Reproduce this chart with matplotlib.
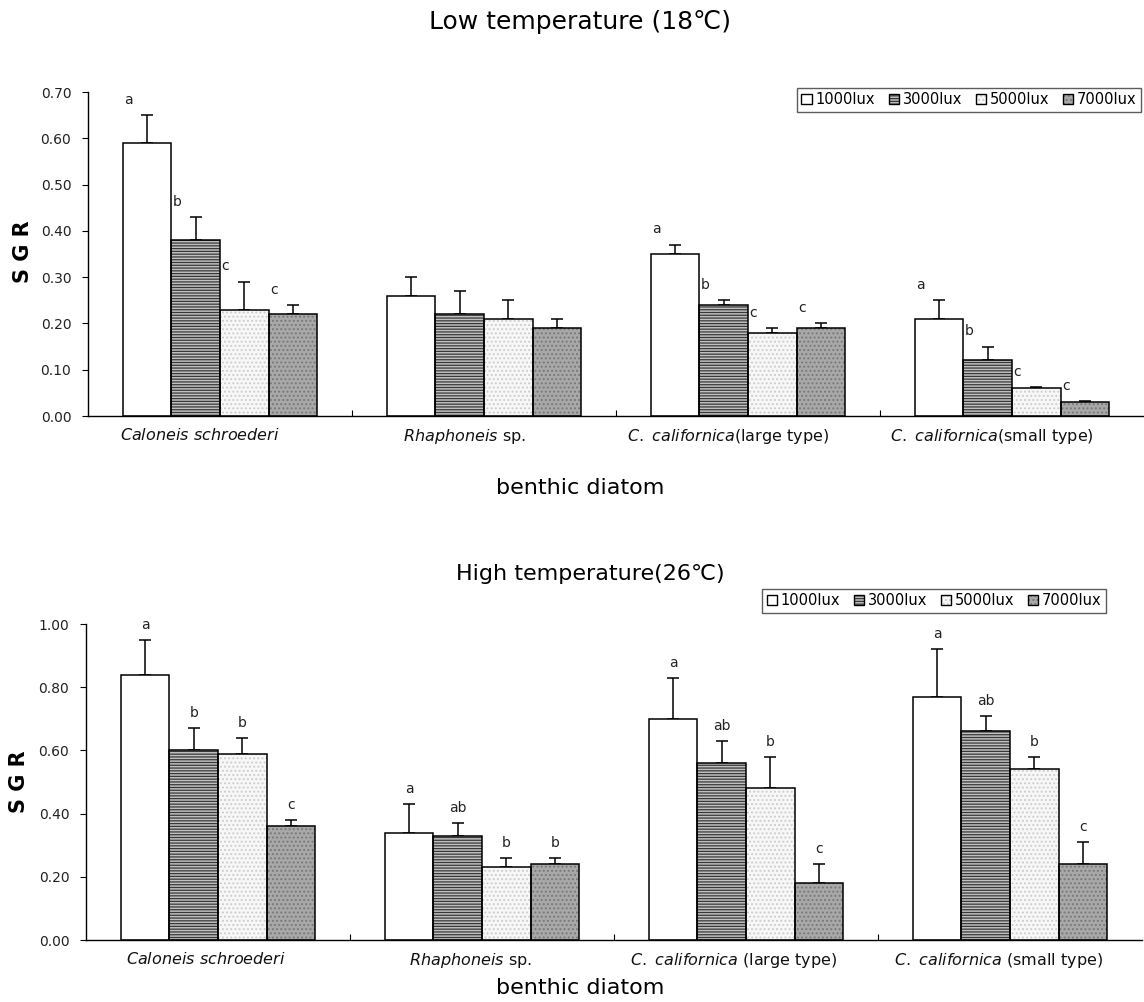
import numpy as np
import matplotlib.pyplot as plt
import matplotlib.transforms as mtransforms
from matplotlib.patches import Patch
from matplotlib.legend_handler import HandlerTuple

species_top = [r"$\mathit{Caloneis\ schroederi}$",
               r"$\mathit{Rhaphoneis}$ sp.",
               r"$\mathit{C.\ californica}$(large type)",
               r"$\mathit{C.\ californica}$(small type)"]
species_bottom = [r"$\mathit{Caloneis\ schroederi}$",
                  r"$\mathit{Rhaphoneis}$ sp.",
                  r"$\mathit{C.\ californica}$ (large type)",
                  r"$\mathit{C.\ californica}$ (small type)"]
light_levels = ["1000lux", "3000lux", "5000lux", "7000lux"]

# SGR at 18 C, rows = light level, columns = species
sgr_low = [[0.59, 0.26, 0.35, 0.21],
           [0.38, 0.22, 0.24, 0.12],
           [0.23, 0.21, 0.18, 0.06],
           [0.22, 0.19, 0.19, 0.03]]
err_low = [[0.06, 0.04, 0.02, 0.04],
           [0.05, 0.05, 0.01, 0.03],
           [0.06, 0.04, 0.01, 0.002],
           [0.02, 0.02, 0.01, 0.002]]
letters_low = [["a", "", "a", "a"],
               ["b", "", "b", "b"],
               ["c", "", "c", "c"],
               ["c", "", "c", "c"]]

# SGR at 26 C
sgr_high = [[0.84, 0.34, 0.70, 0.77],
            [0.60, 0.33, 0.56, 0.66],
            [0.59, 0.23, 0.48, 0.54],
            [0.36, 0.24, 0.18, 0.24]]
err_high = [[0.11, 0.09, 0.13, 0.15],
            [0.07, 0.04, 0.07, 0.05],
            [0.05, 0.03, 0.10, 0.04],
            [0.02, 0.02, 0.06, 0.07]]
letters_high = [["a", "a", "a", "a"],
                ["b", "ab", "ab", "ab"],
                ["b", "b", "b", "b"],
                ["c", "b", "c", "c"]]

plt.rcParams.update({
    "font.family": ["DejaVu Sans"],
    "mathtext.fontset": "custom",
    "mathtext.rm": "DejaVu Sans",
    "mathtext.it": "DejaVu Sans:italic",
    "hatch.linewidth": 0.9,
})

# face colour, hatch pattern, hatch colour for each light level
styles = [("white", "", "white"),
          ("#c0c0c0", "------", "#383838"),
          ("#f7f7f7", "....", "#cccccc"),
          ("#a8a8a8", "....", "#787878")]

W, H = 1144, 1002
fig = plt.figure(figsize=(W / 100, H / 100), dpi=100)
ax1 = fig.add_axes([88 / W, 1 - 416 / H, 1056 / W, 324 / H])
ax2 = fig.add_axes([86 / W, 1 - 940 / H, 1056 / W, 316 / H])

bw = 0.184
x = np.arange(4)


def draw_panel(ax, vals, errs, letters, labels, ymax, ystep, letter_mode,
               label_shift):
    for k in range(4):
        pos = x + (k - 1.5) * bw
        fc, hatch, hc = styles[k]
        ax.bar(pos, vals[k], bw, facecolor=fc, hatch=hatch, edgecolor=hc,
               linewidth=0, zorder=2)
        ax.bar(pos, vals[k], bw, fill=False, edgecolor="black",
               linewidth=1.1, zorder=3)
        ax.errorbar(pos, vals[k], yerr=[np.zeros(4), errs[k]], fmt="none",
                    ecolor="black", elinewidth=1.1, capsize=4.5, capthick=1.1,
                    zorder=1)
        for j in range(4):
            top = vals[k][j] + errs[k][j]
            if letter_mode == "left":
                ax.text(pos[j] - bw / 2 + 0.005, top + 0.018, letters[k][j],
                        ha="left", va="bottom", fontsize=10, color="#222222")
            else:
                ax.text(pos[j], top + 0.025, letters[k][j],
                        ha="center", va="bottom", fontsize=10, color="#222222")

    ax.set_xlim(-0.5, 3.5)
    ax.set_ylim(0, ymax)
    ax.set_yticks(np.arange(0, ymax + 1e-9, ystep))
    ax.yaxis.set_major_formatter(plt.FormatStrFormatter("%.2f"))
    ax.set_xticks(x)
    ax.set_xticklabels(labels, fontsize=11.5, color="#111111")
    ax.set_xticks(np.arange(0.5, 3.5, 1.0), minor=True)
    ax.tick_params(axis="x", which="major", length=0, pad=8)
    ax.tick_params(axis="x", which="minor", direction="in", length=4,
                   width=0.8)
    ax.tick_params(axis="y", direction="out", length=4, width=0.8, pad=8,
                   labelsize=10, labelcolor="#222222")
    # species names sit a little left of the group centres
    shift = mtransforms.ScaledTranslation(label_shift / 100, 0,
                                          fig.dpi_scale_trans)
    for lab in ax.get_xticklabels():
        lab.set_transform(lab.get_transform() + shift)
    for side in ("top", "right"):
        ax.spines[side].set_visible(False)
    for side in ("left", "bottom"):
        ax.spines[side].set_linewidth(1.0)


draw_panel(ax1, sgr_low, err_low, letters_low, species_top, 0.70, 0.10,
           "left", -20)
draw_panel(ax2, sgr_high, err_high, letters_high, species_bottom, 1.00, 0.20,
           "center", -12)

handles = []
for fc, hatch, hc in styles:
    handles.append((Patch(facecolor=fc, hatch=hatch, edgecolor=hc, linewidth=0),
                    Patch(fill=False, edgecolor="black", linewidth=1.0)))

legend_kw = dict(ncol=4, loc="upper right", fontsize=10.5, fancybox=False,
                 handlelength=0.7, handleheight=0.7, handletextpad=0.25,
                 columnspacing=0.95, borderpad=0.3, borderaxespad=0,
                 handler_map={tuple: HandlerTuple(ndivide=1)})
leg1 = ax1.legend(handles, light_levels, bbox_to_anchor=(0.997, 1.012),
                  **legend_kw)
leg2 = ax2.legend(handles, light_levels, bbox_to_anchor=(0.966, 1.111),
                  **legend_kw)
for leg in (leg1, leg2):
    leg.get_frame().set_edgecolor("#333333")
    leg.get_frame().set_linewidth(1.0)

fig.text(580 / W, 1 - 22 / H, "Low temperature (18℃)", ha="center",
         va="center", fontsize=18)
fig.text(590 / W, 1 - 574 / H, "High temperature(26℃)", ha="center",
         va="center", fontsize=16)
fig.text(580 / W, 1 - 488 / H, "benthic diatom", ha="center", va="center",
         fontsize=16)
fig.text(580 / W, 1 - 988 / H, "benthic diatom", ha="center", va="center",
         fontsize=16)
fig.text(23 / W, 1 - 252 / H, "S G R", rotation=90, ha="center",
         va="center", fontsize=15, fontweight="bold")
fig.text(19 / W, 1 - 782 / H, "S G R", rotation=90, ha="center",
         va="center", fontsize=15, fontweight="bold")

fig.savefig("out.png", dpi=100)
